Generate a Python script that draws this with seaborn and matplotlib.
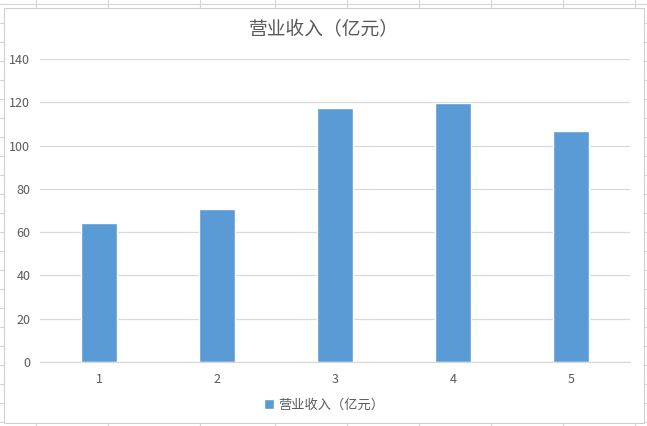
import numpy as np
import pandas as pd
import matplotlib
matplotlib.use("Agg")
import matplotlib.pyplot as plt
from matplotlib.patches import Rectangle
from matplotlib.lines import Line2D
import seaborn as sns

# chart data
years = ["1", "2", "3", "4", "5"]
revenue = [64.3, 70.8, 117.4, 119.8, 106.6]
series_name = "营业收入（亿元）"
y_ticks = [0, 20, 40, 60, 80, 100, 120, 140]

df = pd.DataFrame({"year": years, "revenue": revenue})

sns.set_theme(style="white")
plt.rcParams['font.family'] = ['Noto Sans CJK SC', 'DejaVu Sans']

W, H = 647, 426
fig = plt.figure(figsize=(W / 100, H / 100), dpi=100)

# spreadsheet grid behind the chart
sheet_cols = [36, 108, 200, 275, 347, 419, 491, 563, 635]
for cx in sheet_cols:
    fig.add_artist(Line2D([cx / W, cx / W], [0, 1], color="#d4d4d4", lw=0.8, zorder=0))
for ry in range(4, H, 19):
    fig.add_artist(Line2D([0, 1], [1 - ry / H, 1 - ry / H], color="#d4d4d4", lw=0.8, zorder=0))

# chart area
fig.add_artist(Rectangle((4 / W, 1 - 423 / H), 640 / W, 415 / H,
                         facecolor="white", edgecolor="#d0d0d0", lw=0.8, zorder=1))

ax = fig.add_axes([40 / W, 1 - 362 / H, 590 / W, 303 / H], zorder=2)
ax.set_facecolor("none")
sns.barplot(data=df, x="year", y="revenue", color="#5b9bd5", width=0.31,
            label=series_name, ax=ax, saturation=1)

ax.set_ylim(0, 140)
ax.set_yticks(y_ticks)
ax.set_xlim(-0.5, 4.5)
ax.yaxis.grid(True, color="#d9d9d9", lw=0.9)
ax.set_axisbelow(True)
for s in ["top", "right", "left"]:
    ax.spines[s].set_visible(False)
ax.spines["bottom"].set_color("#d9d9d9")
ax.spines["bottom"].set_linewidth(0.9)
ax.tick_params(axis="both", length=0, labelsize=9, labelcolor="#595959")
ax.tick_params(axis="y", pad=7)
ax.tick_params(axis="x", pad=8)
ax.set_xlabel("")
ax.set_ylabel("")

fig.text(324 / W, 1 - 30 / H, series_name, ha="center", va="center",
         fontsize=13.5, color="#595959", zorder=3)

ax.legend(loc="center", bbox_to_anchor=(324 / W, 1 - 405 / H),
          bbox_transform=fig.transFigure, frameon=False, fontsize=9.5,
          handlelength=0.8, handleheight=0.8, handletextpad=0.3,
          labelcolor="#595959")

fig.savefig("out.png", dpi=100)
